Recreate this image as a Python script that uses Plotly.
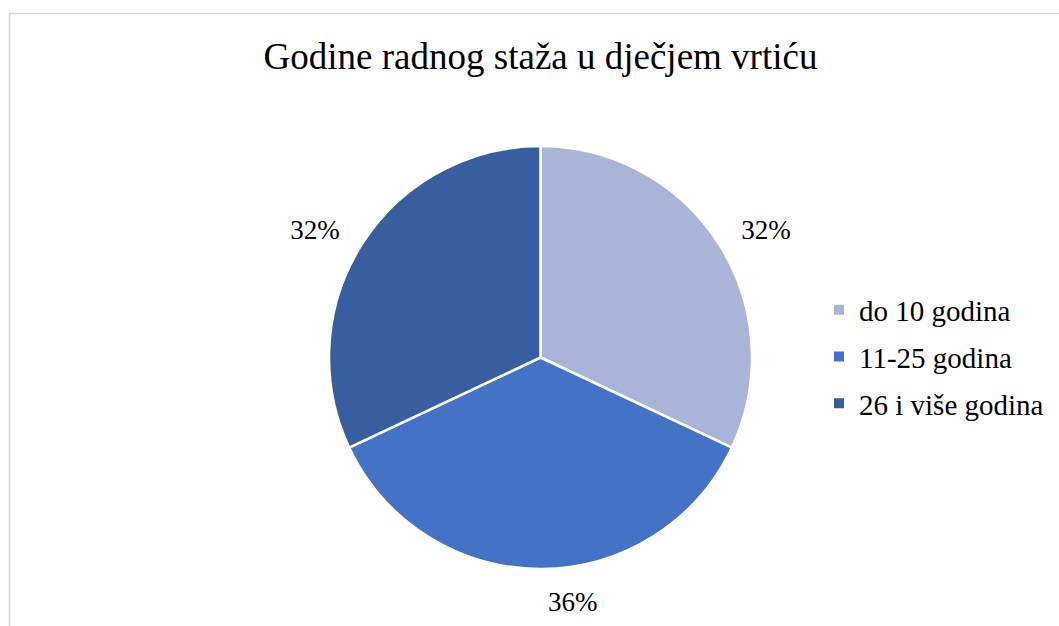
import plotly.graph_objects as go

categories = ["do 10 godina", "11-25 godina", "26 i više godina"]
values = [32, 36, 32]
colors = ["#A8B5D9", "#4472C4", "#375F9F"]
title_text = "Godine radnog staža u dječjem vrtiću"

W, H = 1059, 626
CX, CY = 540.5, 357.5
R_PIE = 211.5
R_LBL = 229.0
FONT = "Liberation Serif"


def dom(r):
    return dict(x=[(CX - r) / W, (CX + r) / W], y=[1 - (CY + r) / H, 1 - (CY - r) / H])


fig = go.Figure()

# transparent pie only used to place the percentage labels a bit further out
fig.add_trace(go.Pie(
    labels=categories, values=values, sort=False, direction="clockwise",
    domain=dom(R_LBL), showlegend=False, hoverinfo="skip",
    marker=dict(colors=["rgba(0,0,0,0)"] * len(values), line=dict(width=0)),
    textinfo="percent", textposition="outside",
    outsidetextfont=dict(family=FONT, size=27, color="#000000"),
))

fig.add_trace(go.Pie(
    labels=categories, values=values, sort=False, direction="clockwise",
    domain=dom(R_PIE), textinfo="none", showlegend=False,
    marker=dict(colors=colors, line=dict(color="#FFFFFF", width=2.5)),
))

# legend entries (empty traces, so the row spacing can be set)
for i, (name, col) in enumerate(zip(categories, colors)):
    fig.add_trace(go.Scatter(
        x=[None], y=[None], mode="markers", name=name, legendgroup=f"g{i}",
        marker=dict(symbol="square", size=10, color=col, line=dict(width=0)),
        hoverinfo="skip",
    ))

fig.update_layout(
    width=W, height=H,
    margin=dict(l=0, r=0, t=0, b=0),
    font=dict(family=FONT, color="#000000"),
    paper_bgcolor="#FFFFFF", plot_bgcolor="#FFFFFF",
    xaxis=dict(visible=False), yaxis=dict(visible=False),
    title=dict(text=title_text, x=CX / W, xanchor="center", y=1 - 56 / H, yanchor="middle",
               yref="container", font=dict(family=FONT, size=37, color="#000000")),
    legend=dict(x=819 / W, xanchor="left", y=1 - 357 / H, yanchor="middle",
                font=dict(family=FONT, size=29, color="#000000"),
                bgcolor="rgba(0,0,0,0)", traceorder="grouped", tracegroupgap=6),
    shapes=[dict(type="rect", xref="paper", yref="paper",
                 x0=9.5 / W, y0=1 - 13.5 / H, x1=1.05, y1=-0.05,
                 line=dict(color="#D6D6D6", width=1.5), fillcolor="rgba(0,0,0,0)", layer="below")],
)

fig.write_html("out.html")
